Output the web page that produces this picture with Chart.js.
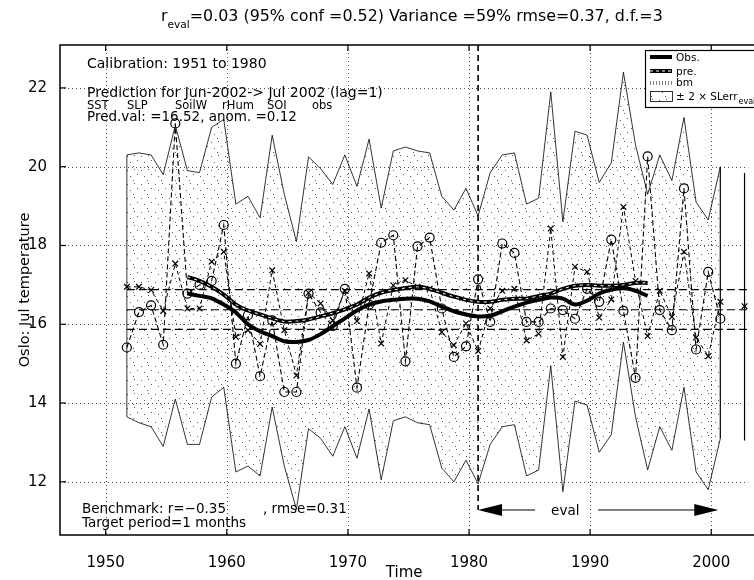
<!DOCTYPE html>
<html><head><meta charset="utf-8">
<script src="https://cdn.jsdelivr.net/npm/chart.js@4"></script>
<style>html,body{margin:0;padding:0;background:#fff;overflow:hidden}#wrap{position:relative;width:754px;height:580px}</style>
</head><body><div id="wrap"><canvas id="c" width="754" height="580"></canvas></div>
<script>
// ---- data ----
const years = [1951,1952,1953,1954,1955,1956,1957,1958,1959,1960,1961,1962,1963,1964,1965,1966,1967,1968,1969,1970,1971,1972,1973,1974,1975,1976,1977,1978,1979,1980,1981,1982,1983,1984,1985,1986,1987,1988,1989,1990,1991,1992,1993,1994,1995,1996,1997,1998,1999,2000];
const obs = [15.41,16.31,16.48,15.48,21.1,16.78,17.0,17.1,18.52,15.0,16.23,14.68,16.1,14.28,14.28,16.78,16.3,15.95,16.9,14.39,16.5,18.07,18.26,15.06,17.98,18.2,16.4,15.17,15.44,17.14,16.06,18.05,17.81,16.06,16.06,16.4,16.36,16.14,16.9,16.57,18.15,16.34,14.64,20.26,16.36,15.85,19.45,15.36,17.33,16.14];
const pre = [16.95,16.95,16.87,16.34,17.54,16.4,16.4,17.59,17.84,15.68,15.85,15.5,17.37,15.85,14.7,16.8,16.53,16.1,16.85,16.08,17.29,15.51,16.99,17.12,16.95,16.9,15.8,15.47,16.02,15.32,16.4,16.85,16.9,15.59,15.76,18.43,15.17,17.46,17.33,16.17,16.63,18.98,17.1,15.7,16.85,16.19,17.84,15.66,15.19,16.57];
const envUpper = [20.3,20.35,20.3,19.8,21.05,19.9,19.85,21.0,21.2,19.05,19.25,18.7,20.8,19.3,18.1,20.25,19.95,19.55,20.3,19.5,20.7,18.95,20.4,20.5,20.4,20.35,19.25,18.9,19.45,18.75,19.85,20.3,20.35,19.05,19.2,21.9,18.6,20.9,20.8,19.6,20.1,22.4,20.55,19.3,20.3,19.65,21.25,19.1,18.65,20.0];
const envLower = [13.65,13.5,13.4,12.9,14.1,12.95,12.95,14.15,14.4,12.25,12.4,12.15,13.9,12.4,11.3,13.35,13.1,12.65,13.4,12.6,13.85,12.05,13.55,13.65,13.5,13.45,12.35,12.0,12.55,11.95,12.95,13.4,13.45,12.15,12.3,14.95,11.75,14.05,13.95,12.75,13.2,15.55,13.65,12.3,13.4,12.8,14.4,12.25,11.8,13.1];
const smoothYears = [1956,1957,1958,1959,1960,1961,1962,1963,1964,1965,1966,1967,1968,1969,1970,1971,1972,1973,1974,1975,1976,1977,1978,1979,1980,1981,1982,1983,1984,1985,1986,1987,1988,1989,1990,1991,1992,1993,1994];
const smoothObs = [16.78,16.72,16.66,16.5,16.3,16.0,15.82,15.7,15.57,15.55,15.6,15.75,15.95,16.15,16.35,16.5,16.58,16.62,16.65,16.65,16.58,16.45,16.33,16.25,16.2,16.22,16.33,16.45,16.55,16.62,16.68,16.65,16.5,16.6,16.78,16.88,16.92,16.85,16.72];
const smoothPre = [17.2,17.1,16.95,16.75,16.5,16.35,16.25,16.15,16.07,16.08,16.12,16.2,16.28,16.38,16.5,16.68,16.8,16.87,16.92,16.95,16.9,16.8,16.7,16.62,16.57,16.57,16.62,16.65,16.65,16.72,16.78,16.9,16.98,17.0,16.98,16.98,17.0,17.05,17.05];
const refLevels = [16.88, 16.37, 15.87];
const predYear = 2002, predValue = 16.46, predLower = 13.05, predUpper = 19.84;
const xTicks = [1950,1960,1970,1980,1990,2000];
const yTicks = [12,14,16,18,20,22];
const evalStart = 1980, evalEnd = 2000;

// ---- layout constants ----
const T_OFF = 0.75;          // July values plotted within the year
const X_MIN = 1946.23, X_MAX = 2003.06, Y_MIN = 10.65, Y_MAX = 23.09;
const FONT = '"DejaVu Sans", "Liberation Sans", sans-serif';
const F = s => s + 'px ' + FONT;

const pts = (xs, ys) => xs.map((v, i) => ({x: v + T_OFF, y: ys[i]}));

function stipple() {
  const c = document.createElement('canvas'); c.width = 14; c.height = 14;
  const g = c.getContext('2d'); g.fillStyle = 'rgba(40,40,40,0.75)';
  [[1,2],[8,1],[4,8],[11,6],[7,12]].forEach(([a,b]) => g.fillRect(a, b, 1, 1));
  return g.createPattern(c, 'repeat');
}
const pattern = stipple();

const n = years.length;
const datasets = [
  {data: pts(years, envUpper), borderColor:'#000', borderWidth:0.8, pointRadius:0, fill:'+1', backgroundColor: pattern, order:20},
  {data: pts(years, envLower), borderColor:'#000', borderWidth:0.8, pointRadius:0, fill:false, order:19},
  {data: [{x:years[0]+T_OFF, y:envLower[0]},{x:years[0]+T_OFF, y:envUpper[0]}], borderColor:'#000', borderWidth:0.8, pointRadius:0, order:18},
  {data: [{x:years[n-1]+T_OFF, y:envLower[n-1]},{x:years[n-1]+T_OFF, y:envUpper[n-1]}], borderColor:'#000', borderWidth:1.2, pointRadius:0, order:18},
];
refLevels.forEach(v => datasets.push({data:[{x:years[0]+T_OFF, y:v},{x:X_MAX, y:v}], borderColor:'#000', borderWidth:1.1, borderDash:[8,4], pointRadius:0, order:15}));
datasets.push(
  {data: pts(years, pre), borderColor:'#000', borderWidth:1, borderDash:[4,3], pointStyle:'crossRot', pointRadius:4, pointBorderWidth:1.2, pointBorderColor:'#000', order:6},
  {data: pts(years, obs), borderColor:'#000', borderWidth:1.1, borderDash:[5,3], pointStyle:'circle', pointRadius:4.5, pointBorderWidth:1.2, pointBorderColor:'#000', pointBackgroundColor:'rgba(255,255,255,0)', order:5},
  {data: pts(smoothYears, smoothObs), borderColor:'#000', borderWidth:4, pointRadius:0, tension:0.3, order:2},
  {data: pts(smoothYears, smoothPre), borderColor:'#000', borderWidth:4, pointRadius:0, tension:0.3, order:1},
  {data: pts(smoothYears, smoothPre), borderColor:'#fff', borderWidth:1, borderDash:[3,4], pointRadius:0, tension:0.3, order:0},
  {data: [{x:predYear+T_OFF, y:predLower},{x:predYear+T_OFF, y:predUpper}], borderColor:'#000', borderWidth:1.2, pointRadius:0, order:3},
  {data: [{x:predYear+T_OFF, y:predValue}], showLine:false, pointStyle:'crossRot', pointRadius:4, pointBorderWidth:1.2, pointBorderColor:'#000', order:3}
);

const deco = {
  id: 'deco',
  beforeDatasetsDraw(chart) {
    const {ctx, chartArea: a, scales: {x, y}} = chart;
    ctx.save();
    ctx.strokeStyle = 'rgba(0,0,0,0.7)'; ctx.lineWidth = 1; ctx.setLineDash([1,3]);
    xTicks.forEach(v => { const p = Math.round(x.getPixelForValue(v)) + 0.5; ctx.beginPath(); ctx.moveTo(p, a.top); ctx.lineTo(p, a.bottom); ctx.stroke(); });
    yTicks.forEach(v => { const p = Math.round(y.getPixelForValue(v)) + 0.5; ctx.beginPath(); ctx.moveTo(a.left, p); ctx.lineTo(a.right, p); ctx.stroke(); });
    ctx.restore();
  },
  afterDatasetsDraw(chart) {
    const {ctx, chartArea: a, scales: {x, y}} = chart;
    const W = chart.width;
    ctx.save();
    // frame
    ctx.strokeStyle = '#000'; ctx.lineWidth = 1.5; ctx.setLineDash([]);
    ctx.beginPath(); ctx.moveTo(W, a.top); ctx.lineTo(a.left, a.top); ctx.lineTo(a.left, a.bottom); ctx.lineTo(W, a.bottom); ctx.stroke();
    ctx.lineWidth = 1.2;
    xTicks.forEach(v => { const p = x.getPixelForValue(v); ctx.beginPath(); ctx.moveTo(p, a.bottom); ctx.lineTo(p, a.bottom - 6); ctx.moveTo(p, a.top); ctx.lineTo(p, a.top + 6); ctx.stroke(); });
    yTicks.forEach(v => { const p = y.getPixelForValue(v); ctx.beginPath(); ctx.moveTo(a.left, p); ctx.lineTo(a.left + 6, p); ctx.stroke(); });

    // eval marker and arrow
    const xs = x.getPixelForValue(evalStart + T_OFF), xe = x.getPixelForValue(evalEnd + T_OFF) - 2;
    const ay = a.bottom - 25;
    ctx.lineWidth = 1.6; ctx.setLineDash([6,4]);
    ctx.beginPath(); ctx.moveTo(xs, a.top); ctx.lineTo(xs, ay); ctx.stroke();
    ctx.setLineDash([]); ctx.lineWidth = 1.1;
    ctx.beginPath(); ctx.moveTo(xs + 22, ay); ctx.lineTo(xs + 57, ay); ctx.moveTo(xs + 120, ay); ctx.lineTo(xe - 22, ay); ctx.stroke();
    ctx.fillStyle = '#000';
    ctx.beginPath(); ctx.moveTo(xs, ay); ctx.lineTo(xs + 24, ay - 6); ctx.lineTo(xs + 24, ay + 6); ctx.closePath(); ctx.fill();
    ctx.beginPath(); ctx.moveTo(xe, ay); ctx.lineTo(xe - 24, ay - 6); ctx.lineTo(xe - 24, ay + 6); ctx.closePath(); ctx.fill();
    ctx.font = F(13.5); ctx.textAlign = 'left'; ctx.textBaseline = 'middle';
    ctx.fillText('eval', xs + 73, ay + 1);

    // annotations
    ctx.textBaseline = 'alphabetic';
    const tx = a.left + 27;
    ctx.font = F(14);
    ctx.fillText('Calibration: 1951 to 1980', tx, 68);
    ctx.fillText('Prediction for Jun-2002-> Jul 2002 (lag=1)', tx, 97);
    ctx.font = F(11.5);
    [['SST',0],['SLP',40],['SoilW',88],['rHum',135],['SOI',180],['obs',225]].forEach(([t, d]) => ctx.fillText(t, tx + d, 108.5));
    ctx.font = F(13.5);
    ctx.fillText('Pred.val: =16.52, anom. =0.12', tx, 121);
    ctx.fillText('Benchmark: r=\u22120.35', a.left + 22, 513);
    ctx.fillText(', rmse=0.31', a.left + 203, 513);
    ctx.fillText('Target period=1 months', a.left + 22, 527);

    // legend
    const lx = 645, ly = 50, lh = 57;
    ctx.fillStyle = '#fff'; ctx.fillRect(lx, ly, W - lx, lh);
    ctx.strokeStyle = '#000'; ctx.lineWidth = 1.2; ctx.strokeRect(lx + 0.5, ly + 0.5, W - lx + 5, lh);
    ctx.lineWidth = 4; ctx.beginPath(); ctx.moveTo(650, 57); ctx.lineTo(672, 57); ctx.stroke();
    ctx.beginPath(); ctx.moveTo(650, 71); ctx.lineTo(672, 71); ctx.stroke();
    ctx.strokeStyle = '#fff'; ctx.lineWidth = 1; ctx.setLineDash([3,3]);
    ctx.beginPath(); ctx.moveTo(650, 71); ctx.lineTo(672, 71); ctx.stroke();
    ctx.strokeStyle = '#000'; ctx.setLineDash([1,2]);
    ctx.beginPath(); ctx.moveTo(650, 82); ctx.lineTo(672, 82); ctx.moveTo(650, 84); ctx.lineTo(672, 84); ctx.stroke();
    ctx.setLineDash([]);
    ctx.fillStyle = pattern; ctx.fillRect(650, 91, 22, 10);
    ctx.lineWidth = 0.8; ctx.strokeRect(650.5, 91.5, 22, 10);
    ctx.fillStyle = '#000'; ctx.font = F(10.5);
    ctx.fillText('Obs.', 676, 61); ctx.fillText('pre.', 676, 75); ctx.fillText('bm', 676, 86);
    ctx.fillText('\u00b1 2 \u00d7 SLerr', 676, 100);
    const w = ctx.measureText('\u00b1 2 \u00d7 SLerr').width;
    ctx.font = F(8); ctx.fillText('eval', 676 + w + 1, 104);

    // title
    const rest = '=0.03 (95% conf =0.52) Variance =59% rmse=0.37, d.f.=3';
    ctx.font = F(15);
    const wr = ctx.measureText('r').width, wRest = ctx.measureText(rest).width;
    ctx.font = F(10); const we = ctx.measureText('eval').width;
    const sc = 502 / (wr + we + wRest);
    let px = 161;
    ctx.font = F(15 * sc); ctx.fillText('r', px, 21); px += wr * sc;
    ctx.font = F(10 * sc); ctx.fillText('eval', px, 28); px += we * sc;
    ctx.font = F(15 * sc); ctx.fillText(rest, px, 21);

    // axis titles
    ctx.font = F(15); ctx.textAlign = 'center';
    ctx.fillText('Time', (a.left + a.right) / 2, 577);
    ctx.translate(25, (a.top + a.bottom) / 2); ctx.rotate(-Math.PI / 2);
    ctx.font = F(14.5); ctx.textBaseline = 'middle';
    ctx.fillText('Oslo: Jul temperature', 0, 0);
    ctx.restore();
  }
};

new Chart(document.getElementById('c'), {
  type: 'line',
  data: {datasets},
  options: {
    responsive: false, animation: false, devicePixelRatio: 1,
    layout: {padding: {top: 45, right: 1, left: 0, bottom: 0}},
    plugins: {legend: {display: false}, tooltip: {enabled: false}, title: {display: false}},
    elements: {line: {tension: 0}},
    scales: {
      x: {type: 'linear', min: X_MIN, max: X_MAX,
          afterFit(s) { s.height = 45; },
          afterBuildTicks(s) { s.ticks = xTicks.map(v => ({value: v})); },
          ticks: {autoSkip: false, maxRotation: 0, padding: 11, color: '#000', font: {family: FONT, size: 15}, callback: v => String(v)},
          grid: {display: false}, border: {display: false}},
      y: {type: 'linear', min: Y_MIN, max: Y_MAX,
          afterFit(s) { s.width = 60; },
          afterBuildTicks(s) { s.ticks = yTicks.map(v => ({value: v})); },
          ticks: {padding: 5, color: '#000', font: {family: FONT, size: 15}, callback: v => String(v)},
          grid: {display: false}, border: {display: false}}
    }
  },
  plugins: [deco]
});
</script></body></html>
